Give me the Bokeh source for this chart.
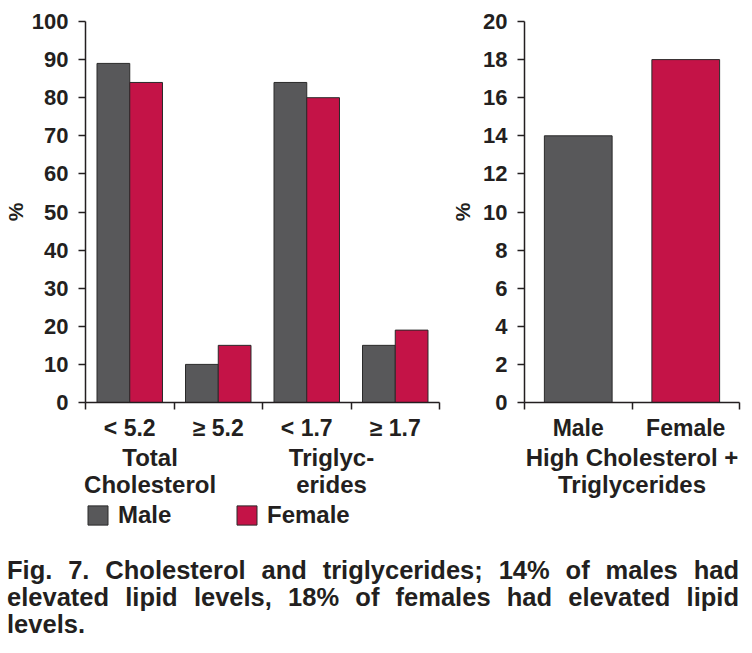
import numpy as np
from bokeh.plotting import figure
from bokeh.models import (Range1d, FixedTicker, LinearAxis, Div, ColumnDataSource,
                          Legend, LegendItem)
from bokeh.layouts import row, column
from bokeh.embed import file_html
from bokeh.resources import INLINE

# ---- data ----
lipid_categories = ["< 5.2", "\u2265 5.2", "< 1.7", "\u2265 1.7"]
male_pct = [89, 10, 84, 15]
female_pct = [84, 15, 80, 19]
left_ticks = [0, 10, 20, 30, 40, 50, 60, 70, 80, 90, 100]

combined_categories = ["Male", "Female"]
combined_pct = [14, 18]
right_ticks = [0, 2, 4, 6, 8, 10, 12, 14, 16, 18, 20]

group_left = ["Total\nCholesterol", "Triglyc-\nerides"]
group_right = ["High Cholesterol +\nTriglycerides"]
series_names = ["Male", "Female"]
caption = ("Fig. 7. Cholesterol and triglycerides; 14% of males had elevated lipid "
           "levels, 18% of females had elevated lipid levels.")

GREY = "#58585a"
RED = "#c41347"
INK = "#231f20"
EDGE = "#2a2a2a"
FONT = "Liberation Sans"


def base_style(p, ticks, label_standoff):
    p.xgrid.visible = False
    p.ygrid.visible = False
    p.outline_line_color = None
    for ax in (p.xaxis[0], p.yaxis[0]):
        ax.axis_line_color = INK
        ax.axis_line_width = 1.5
        ax.major_tick_line_color = INK
        ax.major_tick_line_width = 1.5
        ax.minor_tick_line_color = INK
        ax.minor_tick_line_width = 1.5
        ax.major_label_text_font = FONT
        ax.major_label_text_font_style = "bold"
        ax.major_label_text_color = INK
        ax.axis_label_text_font = FONT
        ax.axis_label_text_font_style = "bold"
        ax.axis_label_text_font_size = "21px"
        ax.axis_label_text_color = INK
    y = p.yaxis[0]
    y.ticker = FixedTicker(ticks=ticks)
    y.major_label_text_font_size = "22px"
    y.major_tick_out = 7
    y.major_tick_in = 0
    y.minor_tick_out = 0
    y.minor_tick_in = 0
    y.major_label_standoff = 10
    y.axis_label = "%"
    y.axis_label_standoff = label_standoff


def category_axis(p, centers, labels, bounds):
    xa = p.xaxis[0]
    xa.ticker = FixedTicker(ticks=list(centers), minor_ticks=list(bounds))
    xa.major_label_overrides = {float(v): c for v, c in zip(centers, labels)}
    xa.major_label_text_font_size = "23px"
    xa.major_tick_out = 0
    xa.major_tick_in = 0
    xa.minor_tick_out = 7
    xa.minor_tick_in = 0
    xa.major_label_standoff = 5


def group_axis(p, centers, labels):
    ax = LinearAxis(ticker=FixedTicker(ticks=list(centers), minor_ticks=[]),
                    major_label_overrides={float(v): t for v, t in zip(centers, labels)})
    ax.axis_line_color = None
    ax.major_tick_line_color = None
    ax.minor_tick_line_color = None
    ax.major_tick_out = 0
    ax.major_tick_in = 0
    ax.major_label_standoff = 0
    ax.major_label_text_font = FONT
    ax.major_label_text_font_style = "bold"
    ax.major_label_text_font_size = "24px"
    ax.major_label_text_color = INK
    ax.major_label_text_line_height = 1.0
    p.add_layout(ax, "below")


# ---- left chart ----
n = len(lipid_categories)
pos = np.arange(n) + 0.5
src = ColumnDataSource(dict(x_m=pos - 0.185, x_f=pos + 0.185,
                            male=male_pct, female=female_pct))
p1 = figure(width=447, height=500, x_range=Range1d(0, n), y_range=Range1d(0, 100),
            output_backend="svg", toolbar_location=None,
            min_border_left=83, min_border_top=21, min_border_right=8,
            min_border_bottom=98)
p1.vbar(x="x_m", top="male", width=0.37, source=src, fill_color=GREY,
        line_color=EDGE, line_width=1)
p1.vbar(x="x_f", top="female", width=0.37, source=src, fill_color=RED,
        line_color=EDGE, line_width=1)
base_style(p1, left_ticks, 2)
category_axis(p1, pos, lipid_categories, range(n + 1))
group_axis(p1, [0.73, 2.78], group_left)

# ---- legend strip under the left chart ----
pl = figure(width=447, height=57, x_range=p1.x_range, y_range=Range1d(1000, 1001),
            x_axis_type=None, y_axis_type=None, output_backend="svg",
            toolbar_location=None, min_border=0)
pl.xgrid.visible = False
pl.ygrid.visible = False
pl.outline_line_color = None
leg_items = []
for name, col, field, xf in zip(series_names, [GREY, RED], ["male", "female"], ["x_m", "x_f"]):
    r = pl.vbar(x=xf, top=field, width=0.37, source=src, fill_color=col,
                line_color=EDGE, line_width=1)
    leg_items.append(LegendItem(label=name, renderers=[r]))
lg = Legend(items=leg_items, orientation="horizontal", location=(0, 28))
lg.padding = 0
lg.margin = 0
lg.spacing = 0
lg.border_line_alpha = 0
lg.background_fill_alpha = 0
lg.glyph_width = 25
lg.glyph_height = 24
lg.label_standoff = 8
lg.label_width = 116
lg.label_text_font = FONT
lg.label_text_font_style = "bold"
lg.label_text_font_size = "24px"
lg.label_text_color = INK
pl.add_layout(lg)

# ---- right chart ----
m = len(combined_categories)
pos2 = np.arange(m) + 0.5
src2 = ColumnDataSource(dict(x=pos2, top=combined_pct, color=[GREY, RED]))
p2 = figure(width=302, height=557, x_range=Range1d(0, m), y_range=Range1d(0, 20),
            output_backend="svg", toolbar_location=None,
            min_border_left=77, min_border_top=21, min_border_right=10,
            min_border_bottom=155)
p2.vbar(x="x", top="top", width=0.63, source=src2, fill_color="color",
        line_color=EDGE, line_width=1)
base_style(p2, right_ticks, 6)
category_axis(p2, pos2, combined_categories, range(m + 1))
group_axis(p2, [1.0], group_right)

div = Div(text=caption, width=732, margin=(0, 0, 0, 7),
          styles={"font-family": FONT, "font-weight": "bold", "font-size": "25.5px",
                  "line-height": "27px", "text-align": "justify", "color": INK})

layout = column(row(column(p1, pl), p2), div)
open("out.html", "w").write(file_html(layout, INLINE))
